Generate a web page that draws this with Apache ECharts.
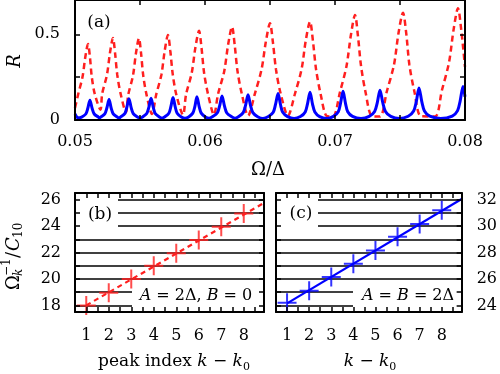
<!DOCTYPE html>
<html>
<head>
<meta charset="utf-8">
<script src="https://cdn.jsdelivr.net/npm/echarts@6.0.0/dist/echarts.min.js"></script>
<style>html,body{margin:0;padding:0;background:#fff}#c{width:500px;height:374px}</style>
</head>
<body>
<div id="c"></div>
<script>
// ---------- data ----------
// panel (a): reflection R vs Omega/Delta
const redSpectrumA = [
[0.05000,0.070],[0.05025,0.152],[0.05058,0.252],[0.05079,0.366],[0.05100,0.443],[0.05115,0.366],[0.05129,0.252],[0.05152,0.152],[0.05196,0.060],
[0.05209,0.153],[0.05246,0.264],[0.05269,0.392],[0.05292,0.478],[0.05308,0.392],[0.05325,0.264],[0.05351,0.153],[0.05392,0.045],
[0.05409,0.145],[0.05446,0.259],[0.05469,0.390],[0.05492,0.477],[0.05508,0.390],[0.05525,0.259],[0.05551,0.145],[0.05592,0.035],
[0.05624,0.146],[0.05665,0.266],[0.05690,0.404],[0.05715,0.496],[0.05733,0.404],[0.05752,0.266],[0.05780,0.146],[0.05831,0.030],
[0.05854,0.148],[0.05898,0.275],[0.05926,0.422],[0.05954,0.520],[0.05973,0.422],[0.05993,0.275],[0.06024,0.148],[0.06069,0.030],
[0.06100,0.150],[0.06148,0.285],[0.06178,0.440],[0.06208,0.544],[0.06228,0.440],[0.06250,0.285],[0.06284,0.150],[0.06331,0.025],
[0.06384,0.154],[0.06435,0.295],[0.06468,0.456],[0.06500,0.564],[0.06522,0.456],[0.06546,0.295],[0.06582,0.154],[0.06638,0.025],
[0.06692,0.153],[0.06743,0.297],[0.06775,0.463],[0.06808,0.574],[0.06830,0.463],[0.06854,0.297],[0.06889,0.153],[0.06938,0.022],[0.06985,0.020],
[0.07038,0.162],[0.07089,0.317],[0.07122,0.494],[0.07154,0.613],[0.07176,0.494],[0.07200,0.317],[0.07235,0.162],[0.07285,0.022],[0.07346,0.020],
[0.07398,0.165],[0.07454,0.323],[0.07488,0.505],[0.07523,0.626],[0.07548,0.505],[0.07572,0.323],[0.07611,0.165],[0.07662,0.022],[0.07769,0.020],
[0.07822,0.172],[0.07877,0.336],[0.07912,0.526],[0.07946,0.652],[0.07971,0.526],[0.08000,0.310]
];
const blueSpectrumA = [
[0.05000,0.035],[0.05023,0.013],[0.05051,0.017],[0.05083,0.035],[0.05098,0.067],[0.05115,0.115],[0.05132,0.067],[0.05148,0.035],[0.05180,0.017],[0.05188,0.012],
[0.05197,0.017],[0.05229,0.036],[0.05245,0.070],[0.05262,0.119],[0.05278,0.070],[0.05294,0.036],[0.05326,0.017],[0.05338,0.011],
[0.05351,0.018],[0.05383,0.037],[0.05398,0.072],[0.05415,0.124],[0.05432,0.072],[0.05448,0.037],[0.05480,0.018],[0.05500,0.011],
[0.05520,0.018],[0.05552,0.038],[0.05568,0.074],[0.05585,0.127],[0.05602,0.074],[0.05617,0.038],[0.05649,0.018],[0.05669,0.011],
[0.05689,0.018],[0.05722,0.039],[0.05737,0.076],[0.05754,0.131],[0.05771,0.076],[0.05786,0.039],[0.05818,0.018],[0.05846,0.010],
[0.05874,0.018],[0.05906,0.040],[0.05922,0.078],[0.05938,0.135],[0.05955,0.078],[0.05971,0.040],[0.06003,0.018],[0.06031,0.010],
[0.06057,0.019],[0.06094,0.041],[0.06112,0.081],[0.06131,0.140],[0.06150,0.081],[0.06168,0.041],[0.06205,0.019],[0.06231,0.010],
[0.06257,0.019],[0.06294,0.043],[0.06312,0.085],[0.06331,0.147],[0.06350,0.085],[0.06368,0.043],[0.06405,0.019],[0.06446,0.009],
[0.06488,0.020],[0.06525,0.045],[0.06542,0.089],[0.06562,0.154],[0.06581,0.089],[0.06598,0.045],[0.06635,0.020],[0.06685,0.009],
[0.06734,0.020],[0.06771,0.047],[0.06788,0.093],[0.06808,0.162],[0.06827,0.093],[0.06845,0.047],[0.06882,0.020],[0.06935,0.009],
[0.06988,0.021],[0.07025,0.048],[0.07042,0.096],[0.07062,0.167],[0.07081,0.096],[0.07098,0.048],[0.07135,0.021],[0.07200,0.009],
[0.07263,0.021],[0.07305,0.050],[0.07325,0.100],[0.07346,0.174],[0.07368,0.100],[0.07388,0.050],[0.07429,0.021],[0.07496,0.009],
[0.07563,0.022],[0.07605,0.053],[0.07625,0.106],[0.07646,0.186],[0.07668,0.106],[0.07688,0.053],[0.07729,0.022],[0.07812,0.009],
[0.07902,0.023],[0.07943,0.055],[0.07963,0.112],[0.07985,0.196],[0.08000,0.136]
];
// panels (b) and (c): peak index vs inverse peak frequency
const peakIndex = [1, 2, 3, 4, 5, 6, 7, 8];
const inverseFreqB = [18.0, 18.95, 20.0, 21.0, 21.95, 22.95, 23.95, 24.95];
const inverseFreqC = [24.2, 25.1, 26.15, 27.15, 28.15, 29.2, 30.15, 31.2];
const fitLineB = [[1, 18.0], [8.9, 25.75]];
const fitLineC = [[1, 24.15], [8.9, 32.05]];

// tick values / labels
const xLabelsA = [0.05, 0.06, 0.07, 0.08];
const xTicksA = [0.05, 0.055, 0.06, 0.065, 0.07, 0.075, 0.08];
const yLabelsA = [0, 0.5];
const yTicksA = [0, 0.25, 0.5];
const kTicks = [1, 1.5, 2, 2.5, 3, 3.5, 4, 4.5, 5, 5.5, 6, 6.5, 7, 7.5, 8, 8.5];
const yLabelsB = [18, 20, 22, 24, 26];
const gridLevelsB = [18, 19, 20, 21, 22, 23, 24, 25, 26];
const yLabelsC = [24, 26, 28, 30, 32];
const gridLevelsC = [24, 25, 26, 27, 28, 29, 30, 31, 32];

// ---------- styling ----------
const FONT = '"DejaVu Serif", serif';
const RED = '#ff1f1f';
const BLUE = '#0000ff';

function mkAxis(gridIndex, position, min, max, ticks, labels, fmt, margin) {
  return {
    type: 'value', gridIndex, position, min, max, z: 10,
    axisLine: { show: true, onZero: false, lineStyle: { color: '#000', width: 2 } },
    axisTick: { show: true, inside: true, length: 5, customValues: ticks, lineStyle: { color: '#000', width: 1.5 } },
    axisLabel: labels ? { show: true, customValues: labels, formatter: fmt, margin: margin,
      fontFamily: FONT, fontSize: 16, color: '#000' } : { show: false },
    splitLine: { show: false }
  };
}
const fmtA = v => v.toFixed(2);
const fmtR = v => (v === 0 ? '0' : String(v));
const fmtInt = v => String(Math.round(v));

const plusSymbol = 'path://M0,10L20,10M10,0L10,20';

function gridMarkLine(levels) {
  return {
    silent: true, symbol: 'none', z: 1, animation: false,
    label: { show: false },
    emphasis: { disabled: true },
    lineStyle: { color: '#000', width: 1.5, type: 'solid' },
    data: levels.map(v => ({ yAxis: v }))
  };
}
const richTitle = {
  n: { fontFamily: 'DejaVu Serif', fontSize: 17, fill: '#000', lineHeight: 22, verticalAlign: 'middle' },
  i: { fontFamily: 'DejaVu Serif', fontSize: 17, fontStyle: 'italic', fill: '#000', lineHeight: 22, verticalAlign: 'middle' },
  s: { fontFamily: 'DejaVu Serif', fontSize: 11, fill: '#000', lineHeight: 22, verticalAlign: 'bottom' }
};
const richNote = { i: { fontFamily: 'DejaVu Serif', fontSize: 16, fontStyle: 'italic', fill: '#000' } };

const chart = echarts.init(document.getElementById('c'), null, { renderer: 'canvas' });
chart.setOption({
  animation: false,
  backgroundColor: '#fff',
  grid: [
    { left: 75, top: 0, width: 390, height: 120 },
    { left: 75, top: 193, width: 189, height: 119 },
    { left: 276, top: 193, width: 189, height: 119 }
  ],
  xAxis: [
    mkAxis(0, 'bottom', 0.05, 0.08, xTicksA, xLabelsA, fmtA, 14),
    mkAxis(0, 'top', 0.05, 0.08, xTicksA, null),
    mkAxis(1, 'bottom', 0.5, 8.9, kTicks, peakIndex, fmtInt, 16),
    mkAxis(1, 'top', 0.5, 8.9, kTicks, null),
    mkAxis(2, 'bottom', 0.5, 8.9, kTicks, peakIndex, fmtInt, 16),
    mkAxis(2, 'top', 0.5, 8.9, kTicks, null)
  ],
  yAxis: [
    mkAxis(0, 'left', 0, 0.7, yTicksA, yLabelsA, fmtR, 15),
    mkAxis(0, 'right', 0, 0.7, yTicksA, null),
    mkAxis(1, 'left', 17.5, 26.5, gridLevelsB, yLabelsB, fmtInt, 14),
    mkAxis(1, 'right', 17.5, 26.5, gridLevelsB, null),
    mkAxis(2, 'left', 23.5, 32.5, gridLevelsC, null),
    mkAxis(2, 'right', 23.5, 32.5, gridLevelsC, yLabelsC, fmtInt, 15)
  ],
  series: [
    { type: 'line', xAxisIndex: 0, yAxisIndex: 0, data: redSpectrumA, smooth: 0.3, showSymbol: false, z: 3,
      lineStyle: { color: RED, width: 2.5, type: [6, 4] }, emphasis: { disabled: true } },
    { type: 'line', xAxisIndex: 0, yAxisIndex: 0, data: blueSpectrumA, smooth: 0.3, showSymbol: false, z: 4,
      lineStyle: { color: BLUE, width: 3 }, emphasis: { disabled: true } },
    { type: 'line', xAxisIndex: 2, yAxisIndex: 2, data: fitLineB, showSymbol: false, z: 4,
      lineStyle: { color: RED, width: 2.2, type: [5, 4] }, emphasis: { disabled: true },
      markLine: gridMarkLine(gridLevelsB) },
    { type: 'scatter', xAxisIndex: 2, yAxisIndex: 2, data: peakIndex.map((k, i) => [k, inverseFreqB[i]]), z: 5,
      symbol: plusSymbol, symbolSize: 19, itemStyle: { color: RED, borderColor: RED, borderWidth: 2 }, emphasis: { disabled: true } },
    { type: 'line', xAxisIndex: 4, yAxisIndex: 4, data: fitLineC, showSymbol: false, z: 4,
      lineStyle: { color: BLUE, width: 2.2 }, emphasis: { disabled: true },
      markLine: gridMarkLine(gridLevelsC) },
    { type: 'scatter', xAxisIndex: 4, yAxisIndex: 4, data: peakIndex.map((k, i) => [k, inverseFreqC[i]]), z: 5,
      symbol: plusSymbol, symbolSize: 19, itemStyle: { color: BLUE, borderColor: BLUE, borderWidth: 2 }, emphasis: { disabled: true } }
  ],
  graphic: [
    // opaque label boxes hiding the grid lines
    { type: 'rect', z: 3, silent: true, shape: { x: 76, y: 194, width: 42, height: 38 }, style: { fill: '#fff' } },
    { type: 'rect', z: 3, silent: true, shape: { x: 132, y: 286, width: 131, height: 25 }, style: { fill: '#fff' } },
    { type: 'rect', z: 3, silent: true, shape: { x: 277, y: 194, width: 41, height: 38 }, style: { fill: '#fff' } },
    { type: 'rect', z: 3, silent: true, shape: { x: 353, y: 286, width: 111, height: 25 }, style: { fill: '#fff' } },
    // panel tags
    { type: 'text', z: 12, x: 99, y: 23, style: { text: '(a)', font: '17px ' + FONT, fill: '#000', align: 'center', verticalAlign: 'middle' } },
    { type: 'text', z: 12, x: 100, y: 215, style: { text: '(b)', font: '17px ' + FONT, fill: '#000', align: 'center', verticalAlign: 'middle' } },
    { type: 'text', z: 12, x: 301, y: 214, style: { text: '(c)', font: '17px ' + FONT, fill: '#000', align: 'center', verticalAlign: 'middle' } },
    // annotations
    { type: 'text', z: 12, x: 196, y: 296, style: { text: '{i|A} = 2Δ, {i|B} = 0', align: 'center', verticalAlign: 'middle',
      font: '16px ' + FONT, fill: '#000', rich: richNote } },
    { type: 'text', z: 12, x: 408, y: 296, style: { text: '{i|A} = {i|B} = 2Δ', align: 'center', verticalAlign: 'middle',
      font: '16px ' + FONT, fill: '#000', rich: richNote } },
    // axis titles
    { type: 'text', z: 12, x: 15, y: 61, rotation: Math.PI / 2, style: { text: 'R', font: 'italic 18px ' + FONT, fill: '#000', align: 'center', verticalAlign: 'middle' } },
    { type: 'text', z: 12, x: 268, y: 170, style: { text: 'Ω/Δ', font: '18px ' + FONT, fill: '#000', align: 'center', verticalAlign: 'middle' } },
    { type: 'text', z: 12, x: 174, y: 362, style: { text: '{n|peak index }{i|k}{n| − }{i|k}{s|0}', align: 'center', verticalAlign: 'middle', rich: richTitle } },
    { type: 'text', z: 12, x: 370, y: 362, style: { text: '{i|k}{n| − }{i|k}{s|0}', align: 'center', verticalAlign: 'middle', rich: richTitle } },
    { type: 'group', x: 14, y: 290, rotation: Math.PI / 2, children: [
      { type: 'text', z: 12, x: 0, y: 0, style: { text: 'Ω', font: '18px ' + FONT, fill: '#000', align: 'left', verticalAlign: 'middle' } },
      { type: 'text', z: 12, x: 14, y: 5, style: { text: 'k', font: 'italic 12px ' + FONT, fill: '#000', align: 'left', verticalAlign: 'middle' } },
      { type: 'text', z: 12, x: 14, y: -7, style: { text: '−1', font: '12px ' + FONT, fill: '#000', align: 'left', verticalAlign: 'middle' } },
      { type: 'text', z: 12, x: 32, y: 0, style: { text: '/', font: '18px ' + FONT, fill: '#000', align: 'left', verticalAlign: 'middle' } },
      { type: 'text', z: 12, x: 39, y: 0, style: { text: 'C', font: 'italic 18px ' + FONT, fill: '#000', align: 'left', verticalAlign: 'middle' } },
      { type: 'text', z: 12, x: 52, y: 5, style: { text: '10', font: '12px ' + FONT, fill: '#000', align: 'left', verticalAlign: 'middle' } }
    ] }
  ]
});
</script>
</body>
</html>
